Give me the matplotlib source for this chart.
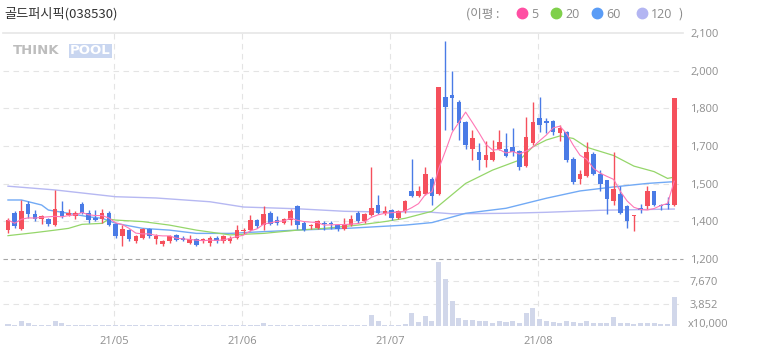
import matplotlib
matplotlib.use("Agg")
import matplotlib.pyplot as plt
from matplotlib.lines import Line2D
import numpy as np
import pandas as pd

plt.rcParams['font.family'] = ['Noto Sans CJK KR', 'DejaVu Sans']

# daily candles, 2021-04-09 .. 2021-08-31 (index = trading day)
opens = [1315, 1385, 1320, 1420, 1380, 1360, 1360, 1335, 1390, 1375,
         1370, 1420, 1385, 1365, 1360, 1385, 1340, 1290, 1315, 1270,
         1285, 1320, 1280, 1260, 1270, 1295, 1285, 1265, 1280, 1270,
         1265, 1285, 1270, 1270, 1285, 1310, 1315, 1355, 1335, 1385,
         1355, 1345, 1355, 1410, 1345, 1330, 1325, 1345, 1342, 1335,
         1320, 1335, 1385, 1350, 1375, 1415, 1383, 1395, 1362, 1390,
         1470, 1450, 1460, 1520, 1460, 1845, 1855, 1825, 1745, 1640,
         1625, 1595, 1595, 1640, 1640, 1645, 1630, 1570, 1660, 1760,
         1750, 1750, 1700, 1705, 1600, 1520, 1530, 1620, 1540, 1515,
         1430, 1460, 1410, 1370, 1405, 1410, 1470, 1415, 1420, 1415]
highs = [1365, 1390, 1435, 1430, 1395, 1375, 1365, 1475, 1430, 1400,
         1390, 1425, 1395, 1395, 1400, 1390, 1345, 1335, 1320, 1295,
         1325, 1325, 1300, 1275, 1295, 1300, 1290, 1295, 1285, 1285,
         1290, 1290, 1295, 1290, 1335, 1325, 1375, 1360, 1410, 1390,
         1370, 1365, 1400, 1415, 1350, 1340, 1355, 1350, 1350, 1340,
         1365, 1375, 1390, 1385, 1565, 1455, 1410, 1400, 1395, 1435,
         1600, 1490, 1565, 1525, 1885, 2070, 1950, 1835, 1750, 1715,
         1660, 1670, 1675, 1715, 1700, 1720, 1635, 1765, 1825, 1845,
         1760, 1755, 1735, 1710, 1605, 1555, 1665, 1625, 1555, 1515,
         1625, 1490, 1415, 1375, 1420, 1490, 1470, 1420, 1445, 1840]
lows = [1305, 1325, 1315, 1365, 1350, 1340, 1330, 1330, 1365, 1370,
        1360, 1380, 1345, 1350, 1345, 1330, 1285, 1250, 1270, 1265,
        1280, 1285, 1260, 1250, 1265, 1270, 1270, 1260, 1250, 1265,
        1250, 1265, 1265, 1265, 1280, 1300, 1310, 1325, 1315, 1335,
        1335, 1340, 1335, 1320, 1310, 1320, 1320, 1315, 1320, 1310,
        1315, 1330, 1345, 1345, 1370, 1380, 1375, 1355, 1360, 1385,
        1445, 1445, 1455, 1415, 1455, 1715, 1715, 1675, 1640, 1595,
        1555, 1565, 1590, 1635, 1605, 1610, 1555, 1565, 1655, 1705,
        1700, 1695, 1670, 1585, 1500, 1500, 1525, 1535, 1470, 1380,
        1415, 1380, 1325, 1310, 1385, 1400, 1410, 1395, 1400, 1410]
closes = [1355, 1330, 1390, 1380, 1360, 1370, 1340, 1400, 1370, 1385,
          1385, 1385, 1355, 1355, 1385, 1335, 1290, 1320, 1280, 1290,
          1320, 1290, 1290, 1270, 1290, 1275, 1275, 1280, 1255, 1280,
          1285, 1270, 1290, 1285, 1315, 1315, 1355, 1330, 1380, 1340,
          1345, 1360, 1390, 1335, 1315, 1335, 1350, 1340, 1340, 1320,
          1335, 1360, 1350, 1380, 1405, 1385, 1390, 1362, 1390, 1430,
          1450, 1470, 1540, 1450, 1885, 1805, 1840, 1740, 1655, 1680,
          1595, 1615, 1625, 1665, 1610, 1625, 1565, 1685, 1745, 1735,
          1740, 1705, 1720, 1595, 1505, 1540, 1625, 1540, 1500, 1440,
          1480, 1385, 1350, 1375, 1395, 1470, 1415, 1410, 1415, 1840]
# volume in units of 10,000 shares
volumes = [400, 230, 860, 520, 230, 230, 230, 860, 520, 200,
           200, 230, 200, 200, 200, 230, 200, 230, 200, 200,
           200, 200, 200, 200, 200, 200, 200, 200, 200, 200,
           200, 200, 200, 200, 200, 200, 200, 200, 520, 200,
           200, 200, 200, 200, 200, 200, 200, 200, 200, 200,
           200, 200, 200, 200, 1840, 860, 200, 200, 200, 400,
           2180, 690, 1780, 860, 11075, 8040, 4300, 1380, 1030, 1030,
           860, 860, 460, 860, 690, 860, 460, 2180, 3100, 1200,
           860, 690, 460, 860, 690, 460, 860, 460, 460, 460,
           1550, 460, 460, 290, 460, 460, 460, 290, 290, 4940]

# moving averages at these day indexes
ma20_idx = [0, 4, 7, 9, 11, 14, 15, 16, 20, 24, 28, 33, 38, 43, 47, 52, 56, 59,
            63, 68, 72, 76, 78, 80, 82, 84, 86, 90, 93, 96, 98, 99]
ma20_val = [1293, 1305, 1315, 1322, 1338, 1342, 1359, 1355, 1349, 1335, 1315, 1296,
            1302, 1315, 1322, 1335, 1349, 1362, 1390, 1501, 1554, 1594, 1647, 1674,
            1690, 1680, 1645, 1612, 1570, 1548, 1521, 1526]
ma60_idx = [0, 2, 5, 6, 9, 12, 14, 16, 20, 24, 28, 33, 38, 43, 51, 59, 63, 68,
            74, 80, 85, 90, 95, 99]
ma60_val = [1435, 1435, 1415, 1395, 1382, 1368, 1362, 1342, 1322, 1315, 1302, 1302,
            1309, 1315, 1323, 1335, 1345, 1382, 1402, 1442, 1471, 1487, 1501, 1508]
ma120_idx = [0, 7, 16, 22, 30, 35, 43, 50, 56, 62, 66, 74, 80, 88, 99]
ma120_val = [1490, 1475, 1448, 1443, 1428, 1407, 1400, 1390, 1387, 1388, 1380,
             1382, 1386, 1394, 1399]

month_pos = [15.75, 34.75, 56.75, 78.75]
month_labels = ['21/05', '21/06', '21/07', '21/08']
price_ticks = [1200, 1350, 1500, 1650, 1800, 1950, 2100]
price_labels = ['1,200', '1,400', '1,500', '1,700', '1,800', '2,000', '2,100']
vol_ticks = [3852, 7670]
vol_labels = ['3,852', '7,670']
vol_top = 11540

UP = '#f5505c'
DOWN = '#4a7be6'
GRID = '#e4e4e4'
LABEL = '#8e8e8e'

W, H = 758, 355


def fx(px):
    return px / W


def fy(py):
    return 1 - py / H


fig = plt.figure(figsize=(W / 100, H / 100), dpi=100)
ax = fig.add_axes([fx(3), fy(259), 680 / W, 226 / H])
axv = fig.add_axes([fx(3), fy(326), 680 / W, 67 / H], sharex=ax)

o = np.array(opens); c = np.array(closes)
h = np.array(highs); l = np.array(lows)
x = np.arange(len(o))
up = c >= o
colors = np.where(up, UP, DOWN)

# grid
for t in price_ticks[1:-1]:
    ax.axhline(t, color=GRID, lw=0.8, ls=(0, (5, 4)), zorder=0)
ax.axhline(2100, color='#e6e6e6', lw=1.2, zorder=0, clip_on=False)
for t in vol_ticks:
    axv.axhline(t, color=GRID, lw=0.8, ls=(0, (5, 4)), zorder=0)
for m in month_pos:
    ax.axvline(m, color=GRID, lw=0.8, ls=(0, (5, 4)), zorder=0)
    axv.axvline(m, color=GRID, lw=0.8, ls=(0, (5, 4)), zorder=0)

# moving averages
ma5 = pd.Series(closes).rolling(5, min_periods=1).mean()
ax.plot(ma120_idx, ma120_val, color='#b6b8f2', lw=1.0, zorder=1)
ax.plot(ma60_idx, ma60_val, color='#72aaf5', lw=1.0, zorder=1)
ax.plot(ma20_idx, ma20_val, color='#95d66a', lw=0.9, zorder=1)
ax.plot(x, ma5, color='#ff77b5', lw=0.8, zorder=3)

# candles
ax.vlines(x, l, h, colors=colors, lw=1.0, zorder=2)
body = np.maximum(np.abs(c - o), 4)
ax.bar(x, body, bottom=np.minimum(o, c), width=0.68, color=colors, lw=0, zorder=2)

# volume
axv.bar(x, volumes, width=0.75, color='#d1d7ea', lw=0, zorder=1)

ax.set_xlim(-0.74, 100.3)
ax.set_ylim(1200, 2100)
axv.set_ylim(0, vol_top)
axv.axhline(vol_top, color='#a5a5a5', lw=0.8, ls=(0, (4, 3)), zorder=3, clip_on=False)

for a in (ax, axv):
    for s in a.spines.values():
        s.set_visible(False)
    a.yaxis.tick_right()
    a.tick_params(axis='y', length=0, pad=5, labelsize=8, labelcolor=LABEL)
    a.tick_params(axis='x', length=0)

ax.set_yticks(price_ticks)
ax.set_yticklabels(price_labels)
axv.set_yticks(vol_ticks)
axv.set_yticklabels(vol_labels)
ax.tick_params(axis='x', labelbottom=False)
axv.set_xticks(month_pos)
axv.set_xticklabels(month_labels)
axv.tick_params(axis='x', pad=7, labelsize=8, labelcolor=LABEL)
for lab in ax.get_yticklabels() + axv.get_yticklabels() + axv.get_xticklabels():
    lab.set_family(['Open Sans', 'DejaVu Sans'])

fig.text(fx(688), fy(325), 'x10,000', fontsize=8, color=LABEL, va='center',
         family=['Open Sans', 'DejaVu Sans'])

# title and legend
fig.text(fx(4), fy(14), '골드퍼시픽(038530)', fontsize=9.5, color='#333333', va='center')
fig.text(fx(466), fy(14), '(이평 :', fontsize=9, color='#8a8a8a', va='center')
legend = [(522, '#ff4fa3', '5'), (556, '#7fd04a', '20'),
          (597, '#5a9cf6', '60'), (642, '#b3b5f2', '120')]
for px, col, txt in legend:
    fig.add_artist(Line2D([fx(px)], [fy(13)], marker='o', ms=7.5, color=col,
                          transform=fig.transFigure))
    fig.text(fx(px + 9), fy(14), txt, fontsize=9, color='#8a8a8a', va='center',
             family=['Open Sans', 'DejaVu Sans'])
fig.text(fx(678), fy(14), ')', fontsize=9, color='#8a8a8a', va='center')

# watermark
fig.text(fx(13), fy(51), 'THINK', fontsize=9.5, color='#bdbdbd', va='center',
         weight='bold', family='DejaVu Sans')
fig.text(fx(70), fy(51), 'POOL', fontsize=9.5, color='white', va='center',
         weight='bold', family='DejaVu Sans',
         bbox=dict(facecolor='#c9d6f0', edgecolor='none', pad=0.6))

fig.savefig('out.png', dpi=100)
